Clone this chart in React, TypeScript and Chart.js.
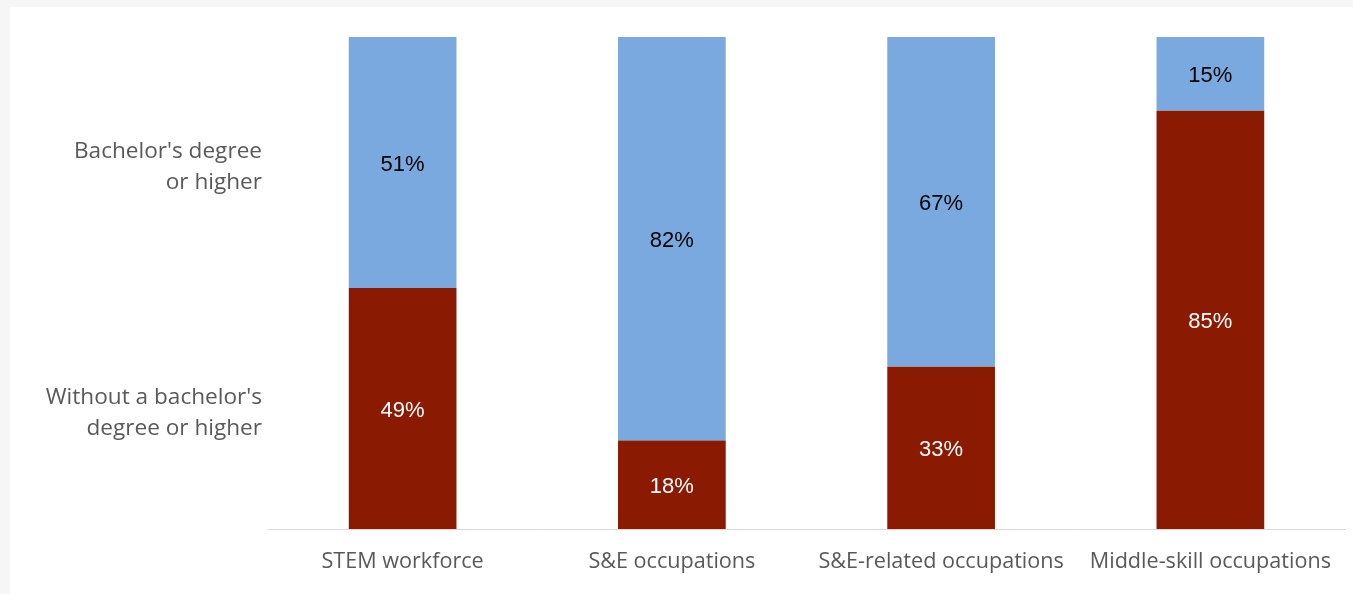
import React, { useEffect, useRef } from "react";
import { Chart, registerables } from "chart.js";

Chart.register(...registerables);

const categories = ["STEM workforce", "S&E occupations", "S&E-related occupations", "Middle-skill occupations"];
const withoutBachelor = [49, 18, 33, 85];
const bachelorOrHigher = [51, 82, 67, 15];
const yTickValues = [25, 75];
const yTickLabels = [["Without a bachelor's", "degree or higher"], ["Bachelor's degree", "or higher"]];

const RED = "#8b1a02";
const BLUE = "#7aa9e0";
const AXIS_TEXT = "#595959";

const barLabels = {
  id: "barLabels",
  afterDatasetsDraw(chart: any) {
    const { ctx } = chart;
    ctx.save();
    ctx.font = "22px 'Liberation Sans', Arial, sans-serif";
    ctx.textAlign = "center";
    ctx.textBaseline = "middle";
    chart.data.datasets.forEach((ds: any, di: number) => {
      const meta = chart.getDatasetMeta(di);
      meta.data.forEach((el: any, i: number) => {
        const v = ds.data[i];
        const cy = (el.y + el.base) / 2 + 2.5;
        ctx.fillStyle = ds.labelColor;
        ctx.fillText(v + "%", el.x, cy);
      });
    });
    ctx.restore();
  },
};

export default function App() {
  const ref = useRef<HTMLCanvasElement | null>(null);
  useEffect(() => {
    if (!ref.current) return;
    const chart = new Chart(ref.current, {
      type: "bar",
      data: {
        labels: categories,
        datasets: [
          { label: "Without a bachelor's degree or higher", data: withoutBachelor, backgroundColor: RED, labelColor: "#ffffff" } as any,
          { label: "Bachelor's degree or higher", data: bachelorOrHigher, backgroundColor: BLUE, labelColor: "#000000" } as any,
        ],
      },
      options: {
        animation: false,
        responsive: false,
        maintainAspectRatio: false,
        layout: { padding: { left: 0, right: 8, top: 30, bottom: 0 } },
        datasets: { bar: { categoryPercentage: 1, barPercentage: 0.4 } },
        plugins: { legend: { display: false }, tooltip: { enabled: false } },
        scales: {
          x: {
            stacked: true,
            grid: { display: false, drawTicks: false },
            border: { display: true, color: "#d9d9d9", width: 1 },
            ticks: {
              color: AXIS_TEXT,
              padding: 20,
              maxRotation: 0,
              autoSkip: false,
              font: { family: "'Open Sans', sans-serif", size: 21.6 },
            },
            afterFit(scale: any) {
              scale.height = 65;
              scale.paddingLeft = 0;
              scale.paddingRight = 0;
            },
          },
          y: {
            stacked: true,
            min: 0,
            max: 100,
            grid: { display: false, drawTicks: false },
            border: { display: false },
            afterBuildTicks(scale: any) {
              scale.ticks = yTickValues.map((v) => ({ value: v }));
            },
            ticks: {
              color: AXIS_TEXT,
              padding: 6,
              labelOffset: 7,
              font: { family: "'Open Sans', sans-serif", size: 22.6, lineHeight: 1.38 },
              callback(value: any) {
                const idx = yTickValues.indexOf(Number(value));
                return idx >= 0 ? yTickLabels[idx] : "";
              },
            },
            afterFit(scale: any) {
              scale.width = 258;
              scale.paddingTop = 0;
              scale.paddingBottom = 0;
            },
          },
        },
      },
      plugins: [barLabels],
    });
    return () => chart.destroy();
  }, []);

  return (
    <div style={{ position: "fixed", left: 0, top: 0, right: 0, bottom: 0, background: "#f6f6f6" }}>
      <div style={{ position: "absolute", left: 10, top: 7, width: 1343, height: 587, background: "#ffffff" }}>
        <canvas ref={ref} width={1343} height={587} style={{ display: "block", width: 1343, height: 587 }} />
      </div>
    </div>
  );
}
